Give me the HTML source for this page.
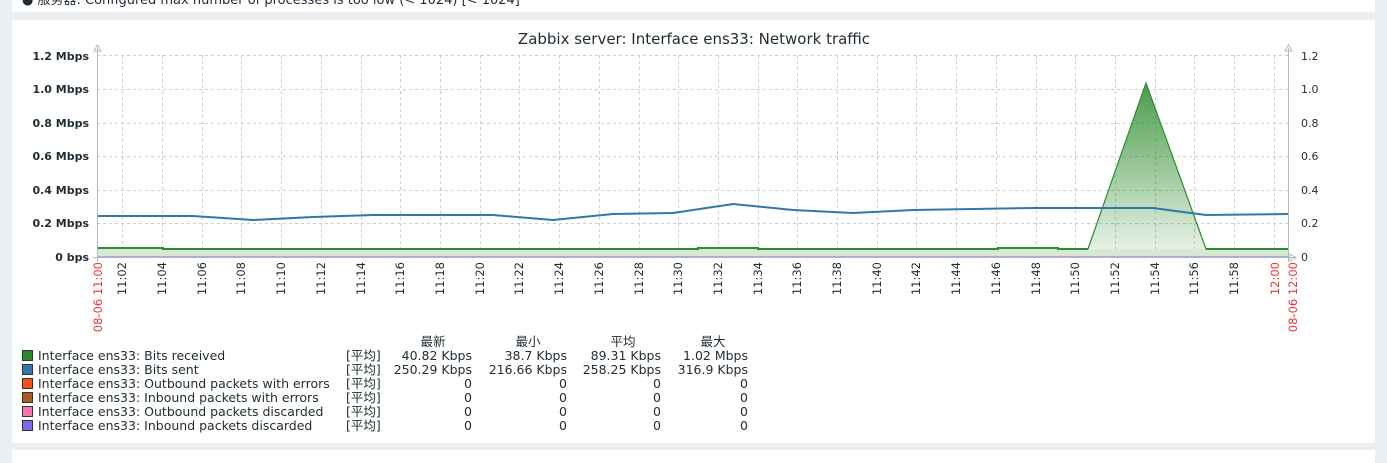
<!DOCTYPE html>
<html><head><meta charset="utf-8"><style>
html,body{margin:0;padding:0;background:#ebeef2;width:1387px;height:463px;overflow:hidden;font-family:"DejaVu Sans","Noto Sans CJK SC",sans-serif}
svg{position:absolute;left:0;top:0}
</style></head><body>
<svg width="1387" height="463" xmlns="http://www.w3.org/2000/svg" font-family="'DejaVu Sans','Noto Sans CJK SC',sans-serif">
<rect x="0" y="0" width="1387" height="463" fill="#ebeef2"/>
<rect x="12" y="0" width="1363" height="12" fill="#fff"/>
<text x="22" y="4" font-size="13" fill="#1f2c33">● 服务器: Configured max number of processes is too low (&lt; 1024)      [&lt; 1024]</text>
<rect x="12" y="20" width="1363" height="423" fill="#fff"/>
<rect x="12" y="450" width="1363" height="13" fill="#fff"/>
<text x="694" y="44" font-size="15" text-anchor="middle" fill="#1f2c33">Zabbix server: Interface ens33: Network traffic</text>
<g stroke="#c8ced4" stroke-dasharray="3,3" stroke-width="1">
<line x1="97" y1="55.5" x2="1288" y2="55.5"/><line x1="97" y1="89.5" x2="1288" y2="89.5"/><line x1="97" y1="123.5" x2="1288" y2="123.5"/><line x1="97" y1="156.5" x2="1288" y2="156.5"/><line x1="97" y1="190.5" x2="1288" y2="190.5"/><line x1="97" y1="223.5" x2="1288" y2="223.5"/>
<line x1="122.5" y1="55" x2="122.5" y2="257"/><line x1="162.5" y1="55" x2="162.5" y2="257"/><line x1="202.5" y1="55" x2="202.5" y2="257"/><line x1="241.5" y1="55" x2="241.5" y2="257"/><line x1="281.5" y1="55" x2="281.5" y2="257"/><line x1="321.5" y1="55" x2="321.5" y2="257"/><line x1="361.5" y1="55" x2="361.5" y2="257"/><line x1="400.5" y1="55" x2="400.5" y2="257"/><line x1="440.5" y1="55" x2="440.5" y2="257"/><line x1="480.5" y1="55" x2="480.5" y2="257"/><line x1="519.5" y1="55" x2="519.5" y2="257"/><line x1="559.5" y1="55" x2="559.5" y2="257"/><line x1="599.5" y1="55" x2="599.5" y2="257"/><line x1="639.5" y1="55" x2="639.5" y2="257"/><line x1="678.5" y1="55" x2="678.5" y2="257"/><line x1="718.5" y1="55" x2="718.5" y2="257"/><line x1="758.5" y1="55" x2="758.5" y2="257"/><line x1="797.5" y1="55" x2="797.5" y2="257"/><line x1="837.5" y1="55" x2="837.5" y2="257"/><line x1="877.5" y1="55" x2="877.5" y2="257"/><line x1="916.5" y1="55" x2="916.5" y2="257"/><line x1="956.5" y1="55" x2="956.5" y2="257"/><line x1="996.5" y1="55" x2="996.5" y2="257"/><line x1="1036.5" y1="55" x2="1036.5" y2="257"/><line x1="1075.5" y1="55" x2="1075.5" y2="257"/><line x1="1115.5" y1="55" x2="1115.5" y2="257"/><line x1="1155.5" y1="55" x2="1155.5" y2="257"/><line x1="1194.5" y1="55" x2="1194.5" y2="257"/><line x1="1234.5" y1="55" x2="1234.5" y2="257"/><line x1="1274.5" y1="55" x2="1274.5" y2="257"/>
</g>
<defs><linearGradient id="g" x1="0" y1="0" x2="0" y2="1"><stop offset="0" stop-color="#2a8a2a" stop-opacity="0.85"/><stop offset="1" stop-color="#2a8a2a" stop-opacity="0.12"/></linearGradient></defs>
<polygon fill="url(#g)" points="1088,249 1146,83 1206,249"/>
<polygon fill="#d7e9d5" points="97,248 163,248 163,249 698,249 698,248 758,248 758,249 998,249 998,248 1058,248 1058,249 1088,249 1206,249 1288,249 1288,257 97,257"/>
<polyline fill="none" stroke="#2e8b2e" stroke-width="2" points="97,248 163,248 163,249 698,249 698,248 758,248 758,249 998,249 998,248 1058,248 1058,249 1088,249"/>
<polyline fill="none" stroke="#2e8b2e" stroke-width="1.2" points="1088,249 1146,83 1206,249"/>
<polyline fill="none" stroke="#2e8b2e" stroke-width="2" points="1206,249 1288,249"/>
<polyline fill="none" stroke="#3377a8" stroke-width="2" points="97,216 193,216 253,220 313,217 373,215 493,215 553,220 613,214 673,213 733,204 793,210 853,213 913,210 973,209 1033,208 1153,208 1206,215 1288,214"/>
<line x1="97" y1="257" x2="1288" y2="257" stroke="#7b68ee" stroke-width="1"/>
<g stroke="#b0b8c0" fill="none"><line x1="97.5" y1="48" x2="97.5" y2="262"/><line x1="1288.5" y1="48" x2="1288.5" y2="262"/><line x1="93" y1="257.5" x2="1296" y2="257.5"/><path d="M94,51 L97.5,45 L101,51Z"/><path d="M1285,51 L1288.5,45 L1292,51Z"/><path d="M1290,254 L1296,257.5 L1290,261Z"/></g>
<g font-size="11" fill="#1f2c33" text-anchor="end" font-weight="bold">
<text x="89" y="60">1.2 Mbps</text><text x="89" y="93">1.0 Mbps</text><text x="89" y="127">0.8 Mbps</text><text x="89" y="160">0.6 Mbps</text><text x="89" y="194">0.4 Mbps</text><text x="89" y="227">0.2 Mbps</text><text x="89" y="261">0 bps</text>
</g>
<g font-size="11" fill="#1f2c33">
<text x="1301" y="60">1.2</text><text x="1301" y="93">1.0</text><text x="1301" y="127">0.8</text><text x="1301" y="160">0.6</text><text x="1301" y="194">0.4</text><text x="1301" y="227">0.2</text><text x="1301" y="261">0</text>
</g>
<g font-size="11.5" fill="#1f2c33" text-anchor="end">
<text transform="translate(126,262) rotate(-90)">11:02</text><text transform="translate(166,262) rotate(-90)">11:04</text><text transform="translate(206,262) rotate(-90)">11:06</text><text transform="translate(245,262) rotate(-90)">11:08</text><text transform="translate(285,262) rotate(-90)">11:10</text><text transform="translate(325,262) rotate(-90)">11:12</text><text transform="translate(365,262) rotate(-90)">11:14</text><text transform="translate(404,262) rotate(-90)">11:16</text><text transform="translate(444,262) rotate(-90)">11:18</text><text transform="translate(484,262) rotate(-90)">11:20</text><text transform="translate(523,262) rotate(-90)">11:22</text><text transform="translate(563,262) rotate(-90)">11:24</text><text transform="translate(603,262) rotate(-90)">11:26</text><text transform="translate(643,262) rotate(-90)">11:28</text><text transform="translate(682,262) rotate(-90)">11:30</text><text transform="translate(722,262) rotate(-90)">11:32</text><text transform="translate(762,262) rotate(-90)">11:34</text><text transform="translate(801,262) rotate(-90)">11:36</text><text transform="translate(841,262) rotate(-90)">11:38</text><text transform="translate(881,262) rotate(-90)">11:40</text><text transform="translate(920,262) rotate(-90)">11:42</text><text transform="translate(960,262) rotate(-90)">11:44</text><text transform="translate(1000,262) rotate(-90)">11:46</text><text transform="translate(1040,262) rotate(-90)">11:48</text><text transform="translate(1079,262) rotate(-90)">11:50</text><text transform="translate(1119,262) rotate(-90)">11:52</text><text transform="translate(1159,262) rotate(-90)">11:54</text><text transform="translate(1198,262) rotate(-90)">11:56</text><text transform="translate(1238,262) rotate(-90)">11:58</text>
<text fill="#e33" transform="translate(1279,262) rotate(-90)">12:00</text>
<text fill="#e33" transform="translate(102,262) rotate(-90)">08-06 11:00</text>
<text fill="#e33" transform="translate(1297,262) rotate(-90)">08-06 12:00</text>
</g>
<g font-size="12.5" fill="#1f2c33">
<g text-anchor="middle"><text x="433" y="346">最新</text><text x="528" y="346">最小</text><text x="623" y="346">平均</text><text x="713" y="346">最大</text></g>
<rect x="22.5" y="350.5" width="10" height="10" fill="#2a8a2a" stroke="#333"/><rect x="22.5" y="364.5" width="10" height="10" fill="#3377a8" stroke="#333"/><rect x="22.5" y="378.5" width="10" height="10" fill="#f4511e" stroke="#333"/><rect x="22.5" y="392.5" width="10" height="10" fill="#a85a25" stroke="#333"/><rect x="22.5" y="406.5" width="10" height="10" fill="#f777aa" stroke="#333"/><rect x="22.5" y="420.5" width="10" height="10" fill="#7b68ee" stroke="#333"/>
<text x="38" y="360">Interface ens33: Bits received</text><text x="38" y="374">Interface ens33: Bits sent</text><text x="38" y="388">Interface ens33: Outbound packets with errors</text><text x="38" y="402">Interface ens33: Inbound packets with errors</text><text x="38" y="416">Interface ens33: Outbound packets discarded</text><text x="38" y="430">Interface ens33: Inbound packets discarded</text>
<text x="346" y="360">[平均]</text><text x="346" y="374">[平均]</text><text x="346" y="388">[平均]</text><text x="346" y="402">[平均]</text><text x="346" y="416">[平均]</text><text x="346" y="430">[平均]</text>
<g text-anchor="end">
<text x="472" y="360">40.82 Kbps</text><text x="567" y="360">38.7 Kbps</text><text x="661" y="360">89.31 Kbps</text><text x="748" y="360">1.02 Mbps</text>
<text x="472" y="374">250.29 Kbps</text><text x="567" y="374">216.66 Kbps</text><text x="661" y="374">258.25 Kbps</text><text x="748" y="374">316.9 Kbps</text>
<text x="472" y="388">0</text><text x="567" y="388">0</text><text x="661" y="388">0</text><text x="748" y="388">0</text>
<text x="472" y="402">0</text><text x="567" y="402">0</text><text x="661" y="402">0</text><text x="748" y="402">0</text>
<text x="472" y="416">0</text><text x="567" y="416">0</text><text x="661" y="416">0</text><text x="748" y="416">0</text>
<text x="472" y="430">0</text><text x="567" y="430">0</text><text x="661" y="430">0</text><text x="748" y="430">0</text>
</g></g>
</svg>
</body></html>
